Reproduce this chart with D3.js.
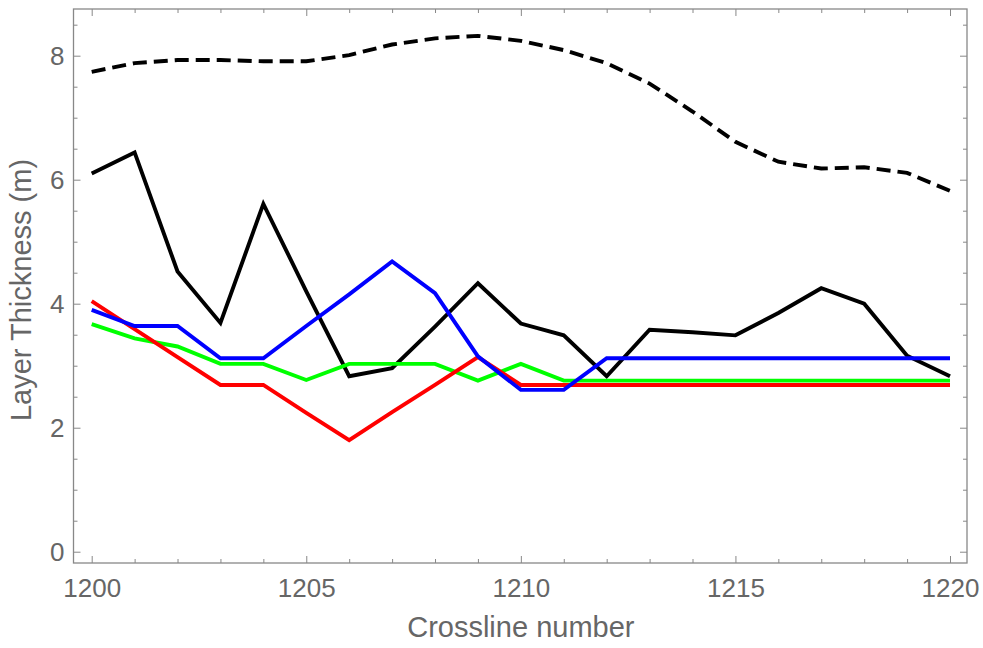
<!DOCTYPE html>
<html>
<head>
<meta charset="utf-8">
<script src="https://cdn.jsdelivr.net/npm/d3@7"></script>
<style>
  html, body { margin: 0; padding: 0; background: #fff; }
  svg { display: block; }
  text { font-family: "Liberation Sans", Arial, sans-serif; fill: #666; }
</style>
</head>
<body>
<svg id="chart" width="983" height="648"></svg>
<script>
// Crossline numbers along the section
const crosslines = d3.range(1200, 1221);

// Layer thickness (m) per crossline, one array per curve
const totalThickness = [7.74, 7.88, 7.93, 7.93, 7.91, 7.91, 8.01, 8.18, 8.28, 8.32, 8.24, 8.09, 7.88, 7.55, 7.10, 6.61, 6.29, 6.18, 6.20, 6.11, 5.82];
const blackSeries = [6.10, 6.44, 4.52, 3.69, 5.61, 4.20, 2.83, 2.96, 3.63, 4.33, 3.68, 3.49, 2.83, 3.58, 3.54, 3.49, 3.85, 4.25, 4.00, 3.16, 2.83];
const greenSeries = [3.67, 3.44, 3.31, 3.03, 3.03, 2.77, 3.03, 3.03, 3.03, 2.76, 3.03, 2.76, 2.76, 2.76, 2.76, 2.76, 2.76, 2.76, 2.76, 2.76, 2.76];
const redSeries = [4.04, 3.59, 3.14, 2.69, 2.69, 2.24, 1.80, 2.25, 2.69, 3.14, 2.69, 2.69, 2.69, 2.69, 2.69, 2.69, 2.69, 2.69, 2.69, 2.69, 2.69];
const blueSeries = [3.90, 3.64, 3.64, 3.12, 3.12, 3.64, 4.15, 4.68, 4.17, 3.15, 2.61, 2.61, 3.12, 3.12, 3.12, 3.12, 3.12, 3.12, 3.12, 3.12, 3.12];

// Tick values and axis titles
const xMajorTicks = [1200, 1205, 1210, 1215, 1220];
const xMinorTicks = d3.range(1200, 1221).filter(v => v % 5 !== 0);
const yMajorTicks = [0, 2, 4, 6, 8];
const yMinorTicks = d3.range(0, 8.51, 0.5).filter(v => v % 2 !== 0);
const xTitle = "Crossline number";
const yTitle = "Layer Thickness (m)";

const svg = d3.select("#chart");
const frame = { left: 73.5, right: 967, top: 9, bottom: 563 };

const x = d3.scaleLinear().domain([1199.576, 1220.396]).range([frame.left, frame.right]);
const y = d3.scaleLinear().domain([-0.182, 8.753]).range([frame.bottom, frame.top]);

const axisColor = "#888";
const majorLen = 7, minorLen = 4;

// Frame
svg.append("rect")
  .attr("x", frame.left).attr("y", frame.top)
  .attr("width", frame.right - frame.left).attr("height", frame.bottom - frame.top)
  .attr("fill", "none").attr("stroke", axisColor).attr("stroke-width", 1.3);

const ticksG = svg.append("g");

// Draws one set of inward-pointing ticks (optionally labelled) on one side
function side(axisFn, scale, values, len, pos, labelled, padding) {
  const gen = axisFn(scale).tickValues(values).tickSizeInner(-len).tickSizeOuter(0);
  if (labelled) gen.tickFormat(d3.format("d")).tickPadding(padding);
  else gen.tickFormat("");
  const g = ticksG.append("g").attr("transform", pos).call(gen);
  g.select(".domain").remove();
  g.selectAll("line").attr("stroke", axisColor);
  g.selectAll("text").attr("font-size", 26).attr("fill", "#666")
    .attr("font-family", "Liberation Sans, Arial, sans-serif");
  return g;
}

const xb = side(d3.axisBottom, x, xMajorTicks, majorLen, `translate(0,${frame.bottom})`, true, 16);
xb.selectAll("text").attr("dy", "0.71em");
side(d3.axisBottom, x, xMinorTicks, minorLen, `translate(0,${frame.bottom})`, false);
side(d3.axisTop, x, xMajorTicks, majorLen, `translate(0,${frame.top})`, false);
side(d3.axisTop, x, xMinorTicks, minorLen, `translate(0,${frame.top})`, false);
side(d3.axisLeft, y, yMajorTicks, majorLen, `translate(${frame.left},0)`, true, 9);
side(d3.axisLeft, y, yMinorTicks, minorLen, `translate(${frame.left},0)`, false);
side(d3.axisRight, y, yMajorTicks, majorLen, `translate(${frame.right},0)`, false);
side(d3.axisRight, y, yMinorTicks, minorLen, `translate(${frame.right},0)`, false);

// Axis titles
svg.append("text")
  .attr("x", x(1210)).attr("y", 637)
  .attr("text-anchor", "middle").attr("font-size", 29)
  .text(xTitle);
svg.append("text")
  .attr("transform", `translate(31,${290}) rotate(-90)`)
  .attr("text-anchor", "middle").attr("font-size", 29)
  .text(yTitle);

// Curves
const line = d3.line().x((d, i) => x(crosslines[i])).y(d => y(d));
const plot = svg.append("g");
const series = [
  { values: totalThickness, color: "#000", dash: "14,7" },
  { values: blackSeries, color: "#000", dash: null },
  { values: greenSeries, color: "#00ff00", dash: null },
  { values: redSeries, color: "#ff0000", dash: null },
  { values: blueSeries, color: "#0000ff", dash: null }
];
series.forEach(s => {
  plot.append("path")
    .datum(s.values)
    .attr("d", line)
    .attr("fill", "none")
    .attr("stroke", s.color)
    .attr("stroke-width", 3.9)
    .attr("stroke-linejoin", "miter")
    .attr("stroke-dasharray", s.dash);
});
</script>
</body>
</html>
